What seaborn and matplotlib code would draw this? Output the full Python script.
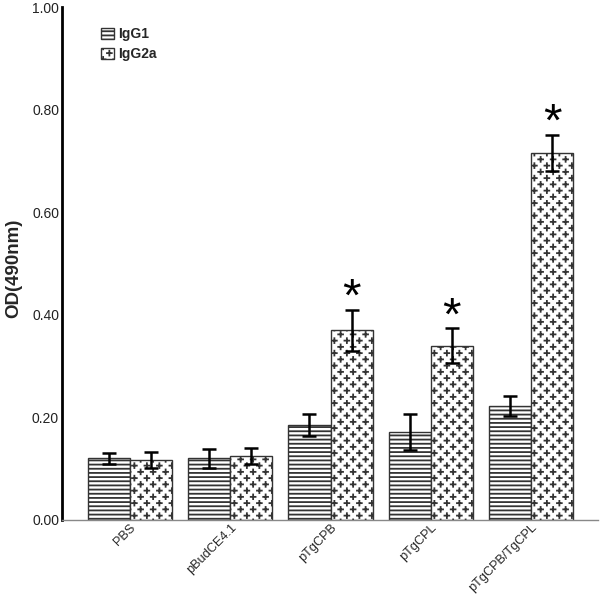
import numpy as np
import pandas as pd
import matplotlib
matplotlib.use("Agg")
import matplotlib.pyplot as plt
import matplotlib.hatch as mhatch
import matplotlib.transforms as mtrans
from matplotlib.patches import Patch
import seaborn as sns

groups = ["PBS", "pBudCE4.1", "pTgCPB", "pTgCPL", "pTgCPB/TgCPL"]
igg1 = [0.12, 0.12, 0.185, 0.172, 0.222]
igg1_err = [0.010, 0.018, 0.021, 0.035, 0.020]
igg2a = [0.117, 0.125, 0.370, 0.340, 0.716]
igg2a_err = [0.015, 0.015, 0.040, 0.034, 0.035]
signif = [False, False, True, True, True]


# staggered little plus signs, like the SPSS fill
class PlusHatch(mhatch.HatchPatternBase):
    def __init__(self, hatch, density):
        self.cols = hatch.count('*') * 4
        self.rows = self.cols * 2
        self.num_vertices = self.cols * self.rows * 4

    def set_vertices_and_codes(self, vertices, codes):
        arm = 0.024
        i = 0
        for r in range(self.rows):
            y = (r + 0.5) / self.rows
            for c in range(self.cols):
                x = (c + 0.25 + 0.5 * (r % 2)) / self.cols
                vertices[i:i + 4] = [(x - arm, y), (x + arm, y), (x, y - arm), (x, y + arm)]
                codes[i:i + 4] = [1, 2, 1, 2]
                i += 4


mhatch._hatch_types = [t for t in mhatch._hatch_types if t is not mhatch.Stars] + [PlusHatch]

sns.set_style("white")
plt.rcParams['font.family'] = ['Liberation Sans', 'DejaVu Sans']
plt.rcParams['hatch.linewidth'] = 1.3

df = pd.DataFrame({
    "group": groups * 2,
    "od": igg1 + igg2a,
    "type": ["IgG1"] * 5 + ["IgG2a"] * 5,
})

fig = plt.figure(figsize=(6, 5.94), dpi=100)
ax = fig.add_axes([0.103, 0.1246, 0.894, 0.8636])
sns.barplot(data=df, x="group", y="od", hue="type", palette=["white", "white"],
            edgecolor="#333333", linewidth=1, width=0.84, legend=False, ax=ax)

hatches = ["----", "**"]
errs = [igg1_err, igg2a_err]
vals = [igg1, igg2a]
bar_conts = list(ax.containers)[:2]
for k, cont in enumerate(bar_conts):
    xs = []
    for bar in cont.patches:
        bar.set_hatch(hatches[k])
        xs.append(bar.get_x() + bar.get_width() / 2)
    ax.errorbar(xs, vals[k], yerr=errs[k], fmt="none", ecolor="black",
                elinewidth=1.8, capsize=4.7, capthick=1.8, zorder=5)
    if k == 1:
        for x, v, e, s in zip(xs, vals[k], errs[k], signif):
            if s:
                ax.text(x, v + e - 0.022, "*", ha="center", va="bottom",
                        fontsize=34, color="black")

ax.set_xlim(-0.68, 4.67)
ax.set_ylim(0, 1.0)
ax.set_yticks(np.arange(0, 1.01, 0.2))
ax.set_yticklabels([f"{t:.2f}" for t in np.arange(0, 1.01, 0.2)], fontsize=10, color="#222222")
ax.set_xticks(range(len(groups)))
ax.set_xticklabels(groups, rotation=45, ha="right", rotation_mode="anchor", fontsize=9.2)
shift = mtrans.ScaledTranslation(0.09, 0.075, fig.dpi_scale_trans)
for lab in ax.get_xticklabels():
    lab.set_transform(lab.get_transform() + shift)
ax.tick_params(axis="y", direction="in", length=7, width=2, pad=2)
ax.tick_params(axis="x", length=0, pad=1)
ax.set_xlabel("")
ax.set_ylabel("OD(490nm)", fontsize=13.5, fontweight="bold")
ax.yaxis.set_label_coords(-0.074, 0.49)

sns.despine(ax=ax)
ax.spines["left"].set_linewidth(2)
ax.spines["left"].set_color("black")
ax.spines["bottom"].set_linewidth(1)
ax.spines["bottom"].set_color("#888888")

handles = [Patch(facecolor="white", edgecolor="#333333", hatch="----", label="IgG1"),
           Patch(facecolor="white", edgecolor="#333333", hatch="**", label="IgG2a")]
ax.legend(handles=handles, loc="upper left", bbox_to_anchor=(0.05, 0.985), frameon=False,
          handlelength=0.9, handleheight=0.9, handletextpad=0.3, labelspacing=0.45,
          prop={"size": 10, "weight": "bold"})

fig.savefig("out.png", dpi=100)
